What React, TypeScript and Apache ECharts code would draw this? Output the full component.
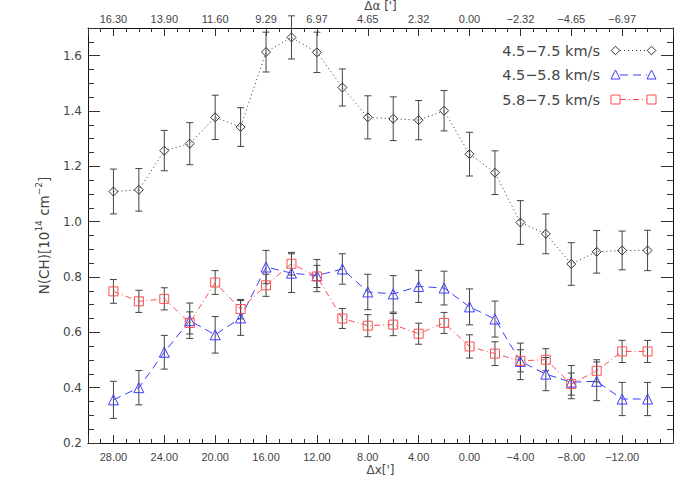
import React, { useEffect, useRef } from "react";
import * as echarts from "echarts";

// Δx offsets (arcmin) of the measured positions
const xValues = [28, 26, 24, 22, 20, 18, 16, 14, 12, 10, 8, 6, 4, 2, 0, -2, -4, -6, -8, -10, -12, -14];

// 4.5–7.5 km/s
const totalValues = [1.109, 1.115, 1.257, 1.282, 1.377, 1.342, 1.613, 1.666, 1.612, 1.485, 1.377, 1.372, 1.367, 1.401, 1.244, 1.177, 0.997, 0.956, 0.847, 0.891, 0.896, 0.896];
const totalErrors = [0.081, 0.077, 0.073, 0.076, 0.08, 0.07, 0.072, 0.078, 0.073, 0.067, 0.078, 0.079, 0.071, 0.073, 0.079, 0.079, 0.079, 0.072, 0.077, 0.077, 0.07, 0.073];

// 4.5–5.8 km/s
const lowValues = [0.356, 0.4, 0.528, 0.642, 0.591, 0.652, 0.836, 0.814, 0.805, 0.829, 0.746, 0.739, 0.766, 0.76, 0.692, 0.648, 0.495, 0.449, 0.42, 0.423, 0.359, 0.359];
const lowErrors = [0.067, 0.062, 0.061, 0.064, 0.066, 0.063, 0.06, 0.07, 0.058, 0.055, 0.064, 0.066, 0.058, 0.061, 0.065, 0.065, 0.066, 0.06, 0.06, 0.07, 0.06, 0.06];

// 5.8–7.5 km/s
const highValues = [0.748, 0.712, 0.721, 0.634, 0.78, 0.684, 0.77, 0.848, 0.802, 0.65, 0.624, 0.628, 0.595, 0.634, 0.549, 0.523, 0.497, 0.501, 0.413, 0.461, 0.531, 0.531];
const highErrors = [0.043, 0.04, 0.04, 0.04, 0.043, 0.035, 0.04, 0.041, 0.04, 0.036, 0.04, 0.04, 0.038, 0.038, 0.042, 0.043, 0.04, 0.04, 0.04, 0.04, 0.04, 0.04];

const seriesNames = ["4.5\u22127.5 km/s", "4.5\u22125.8 km/s", "5.8\u22127.5 km/s"];

const bottomTickValues = [28, 24, 20, 16, 12, 8, 4, 0, -4, -8, -12];
const bottomTickLabels = ["28.00", "24.00", "20.00", "16.00", "12.00", "8.00", "4.00", "0.00", "\u22124.00", "\u22128.00", "\u221212.00"];
const topTickLabels = ["16.30", "13.90", "11.60", "9.29", "6.97", "4.65", "2.32", "0.00", "\u22122.32", "\u22124.65", "\u22126.97"];
const yTickValues = [0.2, 0.4, 0.6, 0.8, 1.0, 1.2, 1.4, 1.6];
const yTickLabels = ["0.2", "0.4", "0.6", "0.8", "1.0", "1.2", "1.4", "1.6"];

const FONT = "DejaVu Sans";
const TEXT = "#444";
const AXIS = "#111";

const styles = [
  { color: "#333", line: [1, 3], symbol: "diamond", size: 9 },
  { color: "#3c3cff", line: [8, 5], symbol: "triangle", size: 10 },
  { color: "#ff4d4d", line: [6, 3, 1, 3], symbol: "rect", size: 9 },
];

function pickLabel(values: number[], labels: string[], v: number) {
  const i = values.findIndex((t) => Math.abs(t - v) < 1e-6);
  return i >= 0 ? labels[i] : "";
}

function markerGraphic(kind: string, cx: number, cy: number, color: string) {
  const st = { fill: "none", stroke: color, lineWidth: 1 };
  if (kind === "diamond") {
    return { type: "polygon", shape: { points: [[cx - 4.3, cy], [cx, cy - 4.3], [cx + 4.3, cy], [cx, cy + 4.3]] }, style: st };
  }
  if (kind === "triangle") {
    return { type: "polygon", shape: { points: [[cx, cy - 5], [cx + 4.5, cy + 4], [cx - 4.5, cy + 4]] }, style: st };
  }
  return { type: "rect", shape: { x: cx - 4.5, y: cy - 4.5, width: 9, height: 9 }, style: st };
}

export default function App() {
  const ref = useRef<HTMLDivElement>(null);

  useEffect(() => {
    if (!ref.current) return;
    const chart = echarts.init(ref.current, undefined, { renderer: "svg" });

    const groups = [
      { values: totalValues, errors: totalErrors },
      { values: lowValues, errors: lowErrors },
      { values: highValues, errors: highErrors },
    ];

    const errorSeries = groups.map((g, gi) => ({
      type: "custom",
      name: "err" + gi,
      xAxisIndex: 0,
      yAxisIndex: 0,
      z: 1,
      silent: true,
      encode: { x: 0, y: 1 },
      data: xValues.map((x, i) => [x, g.values[i], g.errors[i]]),
      renderItem: (params: any, api: any) => {
        const x = api.value(0);
        const y = api.value(1);
        const e = api.value(2);
        const top = api.coord([x, y + e]);
        const bot = api.coord([x, y - e]);
        const hw = 3.5;
        const st = { stroke: "#444", lineWidth: 1 };
        return {
          type: "group",
          children: [
            { type: "line", shape: { x1: top[0], y1: top[1], x2: bot[0], y2: bot[1] }, style: st },
            { type: "line", shape: { x1: top[0] - hw, y1: top[1], x2: top[0] + hw, y2: top[1] }, style: st },
            { type: "line", shape: { x1: bot[0] - hw, y1: bot[1], x2: bot[0] + hw, y2: bot[1] }, style: st },
          ],
        };
      },
    }));

    const lineSeries = groups.map((g, gi) => ({
      type: "line",
      name: seriesNames[gi],
      xAxisIndex: 0,
      yAxisIndex: 0,
      z: 3,
      data: xValues.map((x, i) => [x, g.values[i]]),
      symbol: styles[gi].symbol,
      symbolSize: styles[gi].size,
      showSymbol: true,
      silent: true,
      itemStyle: { color: "rgba(0,0,0,0)", borderColor: styles[gi].color, borderWidth: 1 },
      lineStyle: { color: styles[gi].color, width: 1, type: styles[gi].line },
      emphasis: { disabled: true },
    }));

    // legend drawn as graphic
    const legendRows = [50.5, 75, 99.5];
    const legendGraphics: any[] = [];
    seriesNames.forEach((name, i) => {
      const y = legendRows[i];
      const s = styles[i];
      legendGraphics.push({
        type: "text",
        x: 600,
        y,
        style: { text: name, align: "right", verticalAlign: "middle", textAlign: "right", textVerticalAlign: "middle", fontFamily: FONT, fontSize: 14.5, fill: TEXT },
      });
      legendGraphics.push({
        type: "line",
        shape: { x1: 620, y1: y, x2: 647, y2: y },
        style: { stroke: s.color, lineWidth: 1, lineDash: s.line },
      });
      legendGraphics.push(markerGraphic(s.symbol, 615.5, y, s.color));
      legendGraphics.push(markerGraphic(s.symbol, 651.5, y, s.color));
    });

    const xCommon = {
      type: "value",
      min: -16,
      max: 30,
      interval: 4,
      inverse: true,
      splitLine: { show: false },
      axisLine: { show: true, onZero: false, lineStyle: { color: AXIS, width: 1 } },
      axisTick: { show: true, inside: true, length: 8, lineStyle: { color: "#333" } },
      minorTick: { show: true, splitNumber: 4, length: 4, lineStyle: { color: "#333" } },
      nameLocation: "middle",
      nameMoveOverlap: false,
    };

    const yCommon = {
      type: "value",
      min: 0.2,
      max: 1.7,
      interval: 0.2,
      splitLine: { show: false },
      axisLine: { show: true, onZero: false, lineStyle: { color: AXIS, width: 1 } },
      axisTick: { show: true, inside: true, length: 12, lineStyle: { color: "#333" } },
      minorTick: { show: true, splitNumber: 4, length: 6, lineStyle: { color: "#333" } },
    };

    chart.setOption({
      animation: false,
      backgroundColor: "#fff",
      grid: { left: 88, right: 27, top: 28, bottom: 57, containLabel: false, outerBoundsMode: "none" },
      xAxis: [
        {
          ...xCommon,
          position: "bottom",
          name: "\u0394x[']",
          nameGap: 21,
          nameTextStyle: { fontFamily: FONT, fontSize: 12, color: TEXT, verticalAlign: "top" },
          axisLabel: {
            margin: 8,
            fontFamily: "Liberation Sans",
            fontSize: 11,
            color: TEXT,
            formatter: (v: number) => pickLabel(bottomTickValues, bottomTickLabels, v),
          },
        },
        {
          ...xCommon,
          position: "top",
          name: "\u0394\u03b1 [']",
          nameGap: 16,
          nameTextStyle: { fontFamily: FONT, fontSize: 12, color: TEXT, verticalAlign: "bottom" },
          axisLabel: {
            margin: 4,
            fontFamily: "Liberation Sans",
            fontSize: 11,
            color: TEXT,
            formatter: (v: number) => pickLabel(bottomTickValues, topTickLabels, v),
          },
        },
      ],
      yAxis: [
        {
          ...yCommon,
          position: "left",
          name: "{a|N(CH)[10}{s|14}{a| cm}{s|\u22122}{a|]}",
          nameLocation: "middle",
          nameRotate: 90,
          nameGap: 34,
          nameMoveOverlap: false,
          nameTextStyle: {
            color: TEXT,
            rich: {
              a: { fontFamily: FONT, fontSize: 13.5, color: TEXT, lineHeight: 20 },
              s: { fontFamily: FONT, fontSize: 9, color: TEXT, lineHeight: 11, verticalAlign: "top" },
            },
          },
          axisLabel: {
            margin: 6,
            fontFamily: FONT,
            fontSize: 12,
            color: TEXT,
            formatter: (v: number) => pickLabel(yTickValues, yTickLabels, v),
          },
        },
        {
          ...yCommon,
          position: "right",
          axisLabel: { show: false },
        },
      ],
      graphic: legendGraphics,
      series: [...errorSeries, ...lineSeries],
    });

    return () => chart.dispose();
  }, []);

  return <div ref={ref} style={{ position: "fixed", left: 0, top: 0, width: 700, height: 500 }} />;
}
